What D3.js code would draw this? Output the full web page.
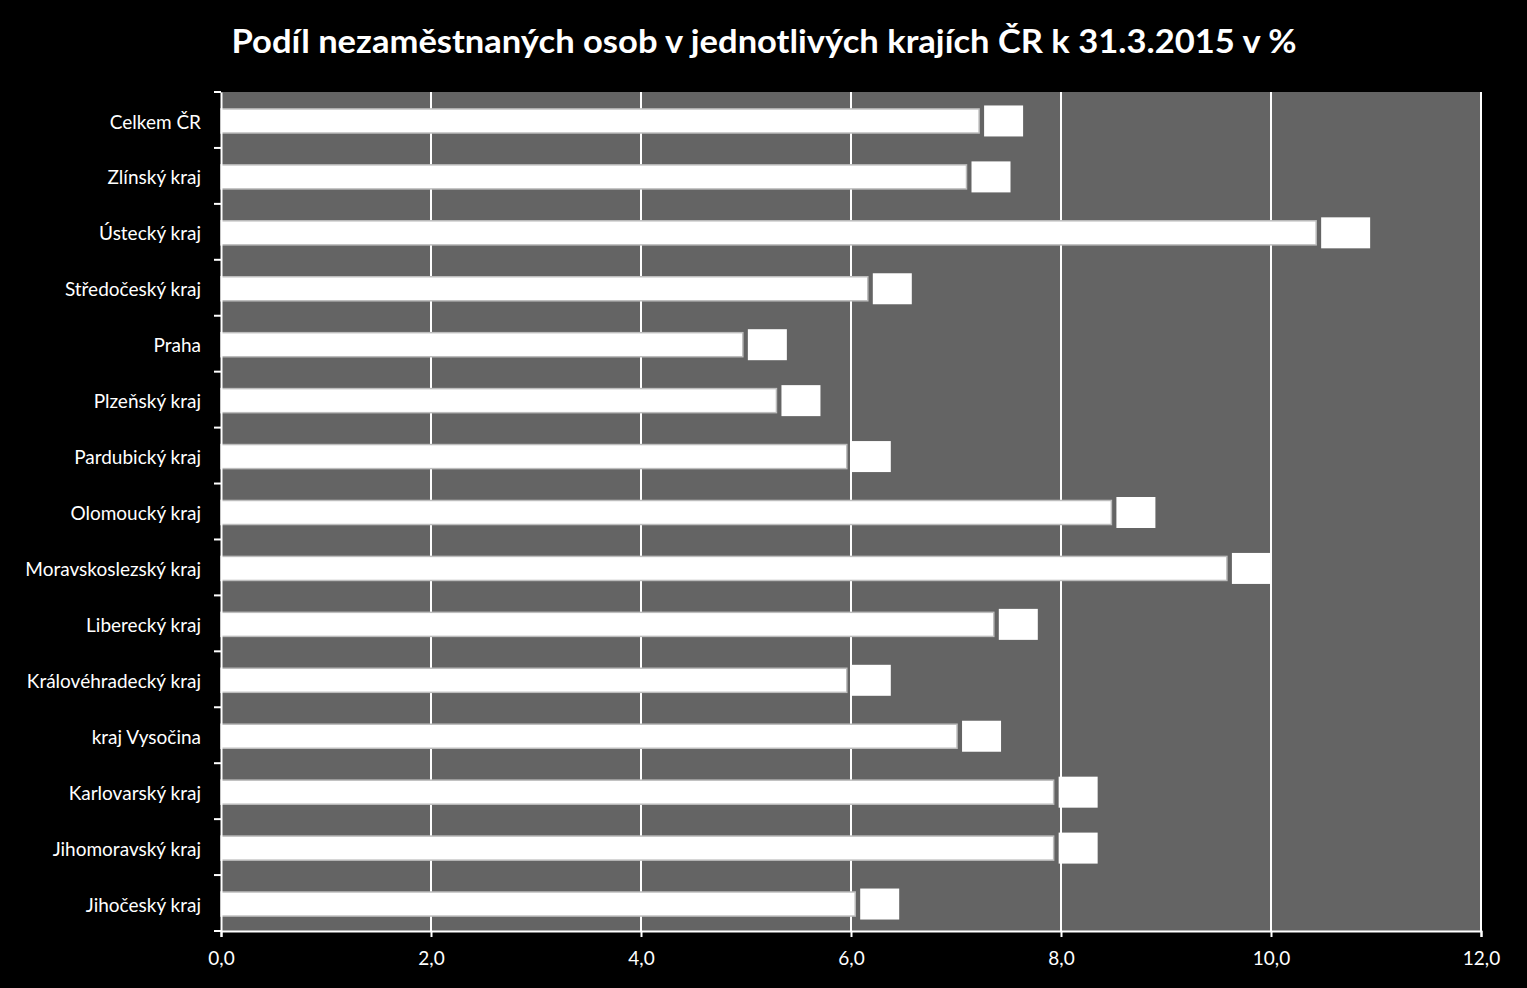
<!DOCTYPE html>
<html>
<head>
<meta charset="utf-8">
<script src="https://cdn.jsdelivr.net/npm/d3@7"></script>
<style>
html,body{margin:0;padding:0;background:#000;}
svg{display:block;}
</style>
</head>
<body>
<script>
const categories = ["Celkem ČR","Zlínský kraj","Ústecký kraj","Středočeský kraj","Praha","Plzeňský kraj","Pardubický kraj","Olomoucký kraj","Moravskoslezský kraj","Liberecký kraj","Královéhradecký kraj","kraj Vysočina","Karlovarský kraj","Jihomoravský kraj","Jihočeský kraj"];
const values = [7.22,7.10,10.43,6.16,4.97,5.29,5.96,8.48,9.58,7.36,5.96,7.01,7.93,7.93,6.04];
const xTicks = [0,2,4,6,8,10,12];
const title = "Podíl nezaměstnaných osob v jednotlivých krajích ČR k 31.3.2015 v %";

const W = 1527, H = 988;
const m = {left:221, right:W-1481, top:92, bottom:H-931};
const svg = d3.select("body").append("svg").attr("width",W).attr("height",H);
svg.append("rect").attr("width",W).attr("height",H).attr("fill","#000");

const x = d3.scaleLinear().domain([0,12]).range([m.left, W-m.right]);
const y = d3.scaleBand().domain(categories).range([m.top, H-m.bottom]).paddingInner(0.57).paddingOuter(0.285);
const yb = d3.scaleBand().domain(categories).range([m.top, H-m.bottom]);

// plot area
svg.append("rect").attr("x",x(0)).attr("y",m.top).attr("width",x(12)-x(0)).attr("height",H-m.bottom-m.top).attr("fill","#646464");

// grid
svg.append("g").selectAll("line").data(xTicks.filter(d=>d>0)).join("line")
  .attr("x1",d=>x(d)).attr("x2",d=>x(d)).attr("y1",m.top).attr("y2",H-m.bottom)
  .attr("stroke","#fff").attr("stroke-width",2);

// bars
svg.append("g").selectAll("rect").data(values).join("rect")
  .attr("x",x(0)).attr("y",(d,i)=>y(categories[i])+1)
  .attr("width",d=>x(d)-x(0)).attr("height",y.bandwidth())
  .attr("fill","#fff").attr("stroke","#bdbdbd").attr("stroke-width",1.5);

// label boxes
const fmt = d=>d3.format(".1f")(d).replace(".",",");
svg.append("g").selectAll("rect").data(values).join("rect")
  .attr("x",d=>x(d)+5)
  .attr("y",(d,i)=>yb(categories[i])+yb.bandwidth()/2-14.5)
  .attr("width",d=>10*fmt(d).length+9).attr("height",31)
  .attr("fill","#fff");

// x axis
const xAxis = svg.append("g").attr("transform",`translate(0,${H-m.bottom})`)
  .call(d3.axisBottom(x).tickValues(xTicks).tickFormat(fmt).tickSize(6).tickPadding(15));
xAxis.select(".domain").attr("stroke","#fff").attr("stroke-width",2);
xAxis.selectAll(".tick line").attr("stroke","#fff").attr("stroke-width",2);
xAxis.selectAll("text").attr("fill","#fff").style("font-family","Lato, 'Open Sans', sans-serif").style("font-size","19px");

// y axis
const yAxis = svg.append("g").attr("transform",`translate(${x(0)},0)`)
  .call(d3.axisLeft(yb).tickSize(0).tickPadding(20));
yAxis.select(".domain").attr("stroke","#fff").attr("stroke-width",2);
yAxis.selectAll("text").attr("fill","#fff").attr("dy","0.45em").style("font-family","Lato, 'Open Sans', sans-serif").style("font-size","19px");
const bounds = categories.map(c=>yb(c)).concat([H-m.bottom]);
yAxis.append("g").selectAll("line").data(bounds).join("line")
  .attr("x1",-7).attr("x2",0).attr("y1",d=>d).attr("y2",d=>d)
  .attr("stroke","#fff").attr("stroke-width",2);

// title
svg.append("text").attr("x",764).attr("y",53).attr("text-anchor","middle")
  .attr("fill","#fff").style("font-family","Lato, 'Open Sans', sans-serif")
  .style("font-weight","bold").style("font-size","32px")
  .attr("textLength",1065).attr("lengthAdjust","spacingAndGlyphs")
  .text(title);
</script>
</body>
</html>
